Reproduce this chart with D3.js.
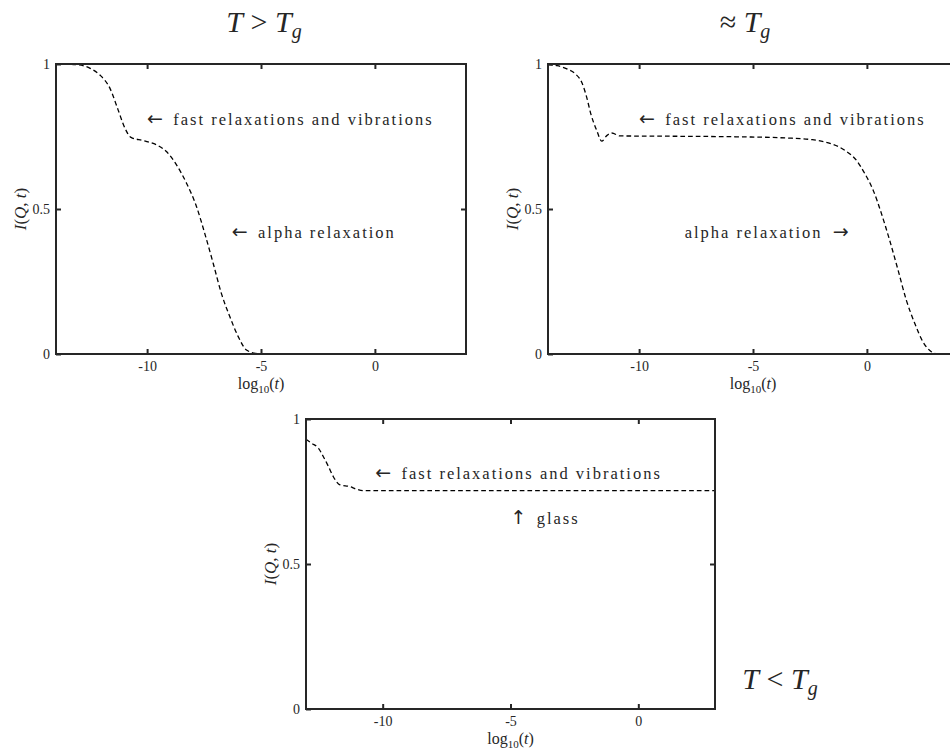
<!DOCTYPE html>
<html>
<head>
<meta charset="utf-8">
<script src="https://cdn.jsdelivr.net/npm/d3@7"></script>
<style>
  body { margin: 0; background: #fff; }
  svg { display: block; }
  svg text { font-family: "Liberation Serif", "Times New Roman", serif; fill: #262626; }
</style>
</head>
<body>
<div id="chart"></div>
<script>
// tick values shared by the three panels
var xTicks = [-10, -5, 0];
var yTicks = [0, 0.5, 1];

// T > Tg : two step decay
var aboveX = [-14, -13.7, -13.0, -12.5, -12.07, -11.63, -11.27, -10.97, -10.71, -10.17, -9.58, -9.15, -8.71, -8.27, -7.83, -7.47, -7.10, -6.74, -6.37, -6.0, -5.64, -5.2, -4.76, 4];
var aboveY = [1, 1, 0.997, 0.985, 0.962, 0.916, 0.841, 0.778, 0.747, 0.736, 0.721, 0.698, 0.652, 0.589, 0.508, 0.416, 0.313, 0.209, 0.129, 0.06, 0.014, 0.002, 0, 0];

// T ~ Tg : long plateau, alpha decay near 0
var nearX = [-14, -13.6, -13.17, -12.8, -12.52, -12.3, -12.12, -11.86, -11.64, -11.42, -11.2, -10.84, -8.66, -5.75, -3.57, -2.41, -1.69, -0.96, -0.45, -0.09, 0.28, 0.64, 1.0, 1.37, 1.73, 2.1, 2.46, 2.83, 3.12, 4];
var nearY = [0.998, 0.994, 0.983, 0.966, 0.937, 0.885, 0.828, 0.771, 0.734, 0.753, 0.762, 0.752, 0.751, 0.749, 0.745, 0.739, 0.728, 0.702, 0.667, 0.622, 0.564, 0.484, 0.392, 0.289, 0.186, 0.106, 0.042, 0.008, 0, 0];

// T < Tg : glass, no alpha decay
var belowX = [-13, -12.77, -12.51, -12.32, -12.12, -11.93, -11.67, -11.29, -11.03, -10.77, -8, -4, 0, 3];
var belowY = [0.93, 0.916, 0.899, 0.87, 0.836, 0.801, 0.773, 0.767, 0.758, 0.753, 0.753, 0.753, 0.753, 0.753];

var W = 950, H = 753;
var FONT = '"Liberation Serif", "Times New Roman", serif';
var ARROWFONT = '"DejaVu Sans", sans-serif';

var svg = d3.select('#chart')
  .append('svg')
    .attr('width', W)
    .attr('height', H);

// notes: pre = arrow before text, post = arrow after text
var panels = [
  { left: 56,  top: 64,  w: 410, h: 290, xdom: [-14, 4], xs: aboveX, ys: aboveY,
    notes: [
      { x: -10, y: 0.81, anchor: 'start', pre: '\u2190', t: 'fast relaxations and vibrations' },
      { x: -6.28, y: 0.42, anchor: 'start', pre: '\u2190', t: 'alpha relaxation' }
    ] },
  { left: 548, top: 64,  w: 410, h: 290, xdom: [-14, 4], xs: nearX, ys: nearY,
    notes: [
      { x: -10, y: 0.81, anchor: 'start', pre: '\u2190', t: 'fast relaxations and vibrations' },
      { x: -0.8, y: 0.42, anchor: 'end', post: '\u2192', t: 'alpha relaxation' }
    ] },
  { left: 306, top: 419, w: 409, h: 290, xdom: [-13, 3], xs: belowX, ys: belowY,
    notes: [
      { x: -10.29, y: 0.814, anchor: 'start', pre: '\u2190', t: 'fast relaxations and vibrations' },
      { x: -5.0, y: 0.659, anchor: 'start', pre: '\u2191', t: 'glass' }
    ] }
];

var line = d3.line()
  .curve(d3.curveMonotoneX);

panels.forEach(drawPanel);

function drawPanel(p) {
  var x = d3.scaleLinear().domain(p.xdom).range([0, p.w]);
  var y = d3.scaleLinear().domain([0, 1]).range([p.h, 0]);
  var g = svg.append('g').attr('transform', 'translate(' + p.left + ',' + p.top + ')');

  // curve
  var pts = p.xs.map(function(v, i) { return [x(v), y(p.ys[i])]; });
  g.append('path')
    .attr('d', line(pts))
    .attr('fill', 'none')
    .attr('stroke', '#000')
    .attr('stroke-width', 1.3)
    .attr('stroke-dasharray', '4.7,3');

  // axes: ticks point inward on all four sides, plain hyphen minus like matlab
  var bottom = d3.axisBottom(x).tickValues(xTicks).tickSize(-5).tickPadding(10).tickFormat(function(d) { return String(d); });
  var top = d3.axisTop(x).tickValues(xTicks).tickSize(-5).tickFormat('');
  var left = d3.axisLeft(y).tickValues(yTicks).tickSize(-5).tickPadding(9).tickFormat(function(d) { return String(d); });
  var right = d3.axisRight(y).tickValues([0.5]).tickSize(-5).tickFormat('');

  var axB = g.append('g').attr('transform', 'translate(0,' + p.h + ')').call(bottom);
  var axT = g.append('g').call(top);
  var axL = g.append('g').call(left);
  var axR = g.append('g').attr('transform', 'translate(' + p.w + ',0)').call(right);

  [axB, axT, axL, axR].forEach(function(a) {
    a.select('.domain').remove();
    a.selectAll('.tick line').attr('stroke', '#262626').attr('stroke-width', 2);
    a.selectAll('text').style('font-family', FONT).attr('font-size', 14).attr('fill', '#262626');
  });
  axB.selectAll('.tick text').attr('dy', '0.5em');
  axL.selectAll('.tick text').attr('dx', '3');

  // frame
  g.append('rect')
    .attr('width', p.w).attr('height', p.h)
    .attr('fill', 'none')
    .attr('stroke', '#262626')
    .attr('stroke-width', 2);

  // axis labels
  var xl = g.append('text')
    .attr('x', p.w / 2).attr('y', p.h + 35)
    .attr('text-anchor', 'middle')
    .style('font-family', FONT)
    .attr('font-size', 16);
  xl.append('tspan').text('log');
  xl.append('tspan').attr('font-size', 11).attr('dy', 4).text('10');
  xl.append('tspan').attr('dy', -4).text('(');
  xl.append('tspan').attr('font-style', 'italic').text('t');
  xl.append('tspan').text(')');

  var yl = g.append('text')
    .attr('transform', 'translate(-30,' + p.h / 2 + ') rotate(-90)')
    .attr('text-anchor', 'middle')
    .style('font-family', FONT)
    .attr('font-size', 17);
  yl.append('tspan').attr('font-style', 'italic').text('I');
  yl.append('tspan').text('(');
  yl.append('tspan').attr('font-style', 'italic').text('Q');
  yl.append('tspan').text(', ');
  yl.append('tspan').attr('font-style', 'italic').text('t');
  yl.append('tspan').text(')');

  // annotations
  p.notes.forEach(function(n) {
    var t = g.append('text')
      .attr('x', x(n.x)).attr('y', y(n.y))
      .attr('dy', '0.35em')
      .attr('text-anchor', n.anchor)
      .style('font-family', FONT)
      .attr('font-size', 16.5)
      .style('letter-spacing', '2px');
    if (n.pre) {
      t.append('tspan').style('font-family', ARROWFONT).style('letter-spacing', '0px').attr('font-size', 19).text(n.pre);
      t.append('tspan').text('\u2002' + n.t);
    } else {
      t.append('tspan').text(n.t + '\u2002');
      t.append('tspan').style('font-family', ARROWFONT).style('letter-spacing', '0px').attr('font-size', 19).text(n.post);
    }
  });
}

// temperature titles
function title(cx, cy, rel) {
  var t = svg.append('text')
    .attr('x', cx).attr('y', cy)
    .attr('text-anchor', 'middle')
    .style('font-family', FONT)
    .attr('font-size', 30);
  if (rel !== '\u2248') t.append('tspan').attr('font-style', 'italic').text('T');
  t.append('tspan').text((rel !== '\u2248' ? '\u2005' : '') + rel + '\u2005');
  t.append('tspan').attr('font-style', 'italic').text('T');
  t.append('tspan').attr('font-style', 'italic').attr('font-size', 20).attr('dy', 6).text('g');
}
title(264, 32, '>');
title(745, 32, '\u2248');
title(780, 689, '<');
</script>
</body>
</html>
